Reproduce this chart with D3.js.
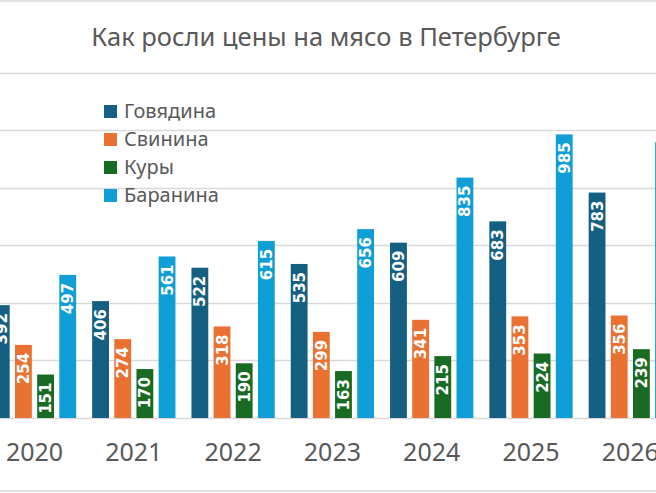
<!DOCTYPE html>
<html><head><meta charset="utf-8">
<script src="https://cdn.jsdelivr.net/npm/d3@7"></script>
<style>html,body{margin:0;padding:0;background:#fff;overflow:hidden}</style>
</head><body>
<svg id="c" width="656" height="493"></svg>
<script>
const years = ["2020","2021","2022","2023","2024","2025","2026"];
const seriesNames = ["Говядина","Свинина","Куры","Баранина"];
const beef = [392, 406, 522, 535, 609, 683, 783];
const pork = [254, 274, 318, 299, 341, 353, 356];
const chicken = [151, 170, 190, 163, 215, 224, 239];
const lamb = [497, 561, 615, 656, 835, 985, 958];
const yTicks = [0, 200, 400, 600, 800, 1000, 1200];
const colors = ["#156082", "#E97132", "#196B24", "#0F9ED5"];
const title = "Как росли цены на мясо в Петербурге";

const seriesValues = [beef, pork, chicken, lamb];
const svg = d3.select("#c");
const W = 656, H = 493;

const y = d3.scaleLinear().domain([0, 1200]).range([418, 72.5]);
const step = 99.3;
const x0 = d3.scaleBand().domain(years).range([34.5 - step/2, 34.5 - step/2 + step*years.length]).padding(0);
const x1 = d3.scaleBand().domain(seriesNames).range([8, 91.3]).paddingInner(0.24).paddingOuter(0);
const color = d3.scaleOrdinal().domain(seriesNames).range(colors);

// outer frame lines (cropped chart border)
svg.append("rect").attr("x", -5).attr("y", 1).attr("width", W + 10).attr("height", 490)
  .attr("fill", "none").attr("stroke", "#d9d9d9").attr("stroke-width", 1.5);

// gridlines
svg.append("g").selectAll("line").data(yTicks).join("line")
  .attr("x1", 0).attr("x2", W)
  .attr("y1", d => Math.round(y(d)) + 0.5).attr("y2", d => Math.round(y(d)) + 0.5)
  .attr("stroke", "#d9d9d9").attr("stroke-width", 1.3);

// title
svg.append("text").attr("x", 326).attr("y", 46).attr("text-anchor", "middle")
  .attr("font-family", "Noto Sans").attr("font-size", 25.5).attr("fill", "#595959")
  .text(title);

// bars
const groups = svg.append("g").selectAll("g").data(years).join("g")
  .attr("transform", d => `translate(${x0(d)},0)`);
groups.selectAll("rect").data((d, i) => seriesNames.map((s, k) => ({s, v: seriesValues[k][i]})))
  .join("rect")
  .attr("x", d => x1(d.s)).attr("width", x1.bandwidth())
  .attr("y", d => y(d.v)).attr("height", d => y(0) - y(d.v))
  .attr("fill", d => color(d.s));
groups.selectAll("text").data((d, i) => seriesNames.map((s, k) => ({s, v: seriesValues[k][i]})))
  .join("text")
  .attr("transform", d => `translate(${x1(d.s) + x1.bandwidth()/2 + 5.5},${y(d.v) + 8}) rotate(-90)`)
  .attr("text-anchor", "end")
  .attr("font-family", "DejaVu Sans").attr("font-weight", "bold").attr("font-size", 15)
  .attr("fill", "#fff")
  .text(d => d.v);

// x axis labels
const xAxis = d3.axisBottom(x0).tickSize(0).tickPadding(0);
const gx = svg.append("g").attr("transform", "translate(0,443)").call(xAxis);
gx.select(".domain").remove();
gx.selectAll("text").attr("font-family", "Noto Sans").attr("font-size", 25).attr("fill", "#595959")
  .attr("dy", "0.72em");

// legend
const lg = svg.append("g").selectAll("g").data(seriesNames).join("g")
  .attr("transform", (d, i) => `translate(104,${105 + i*28})`);
lg.append("rect").attr("width", 13).attr("height", 13).attr("fill", d => color(d));
lg.append("text").attr("x", 20).attr("y", 13)
  .attr("font-family", "Noto Sans").attr("font-size", 20).attr("fill", "#595959")
  .text(d => d);
</script>
</body></html>
